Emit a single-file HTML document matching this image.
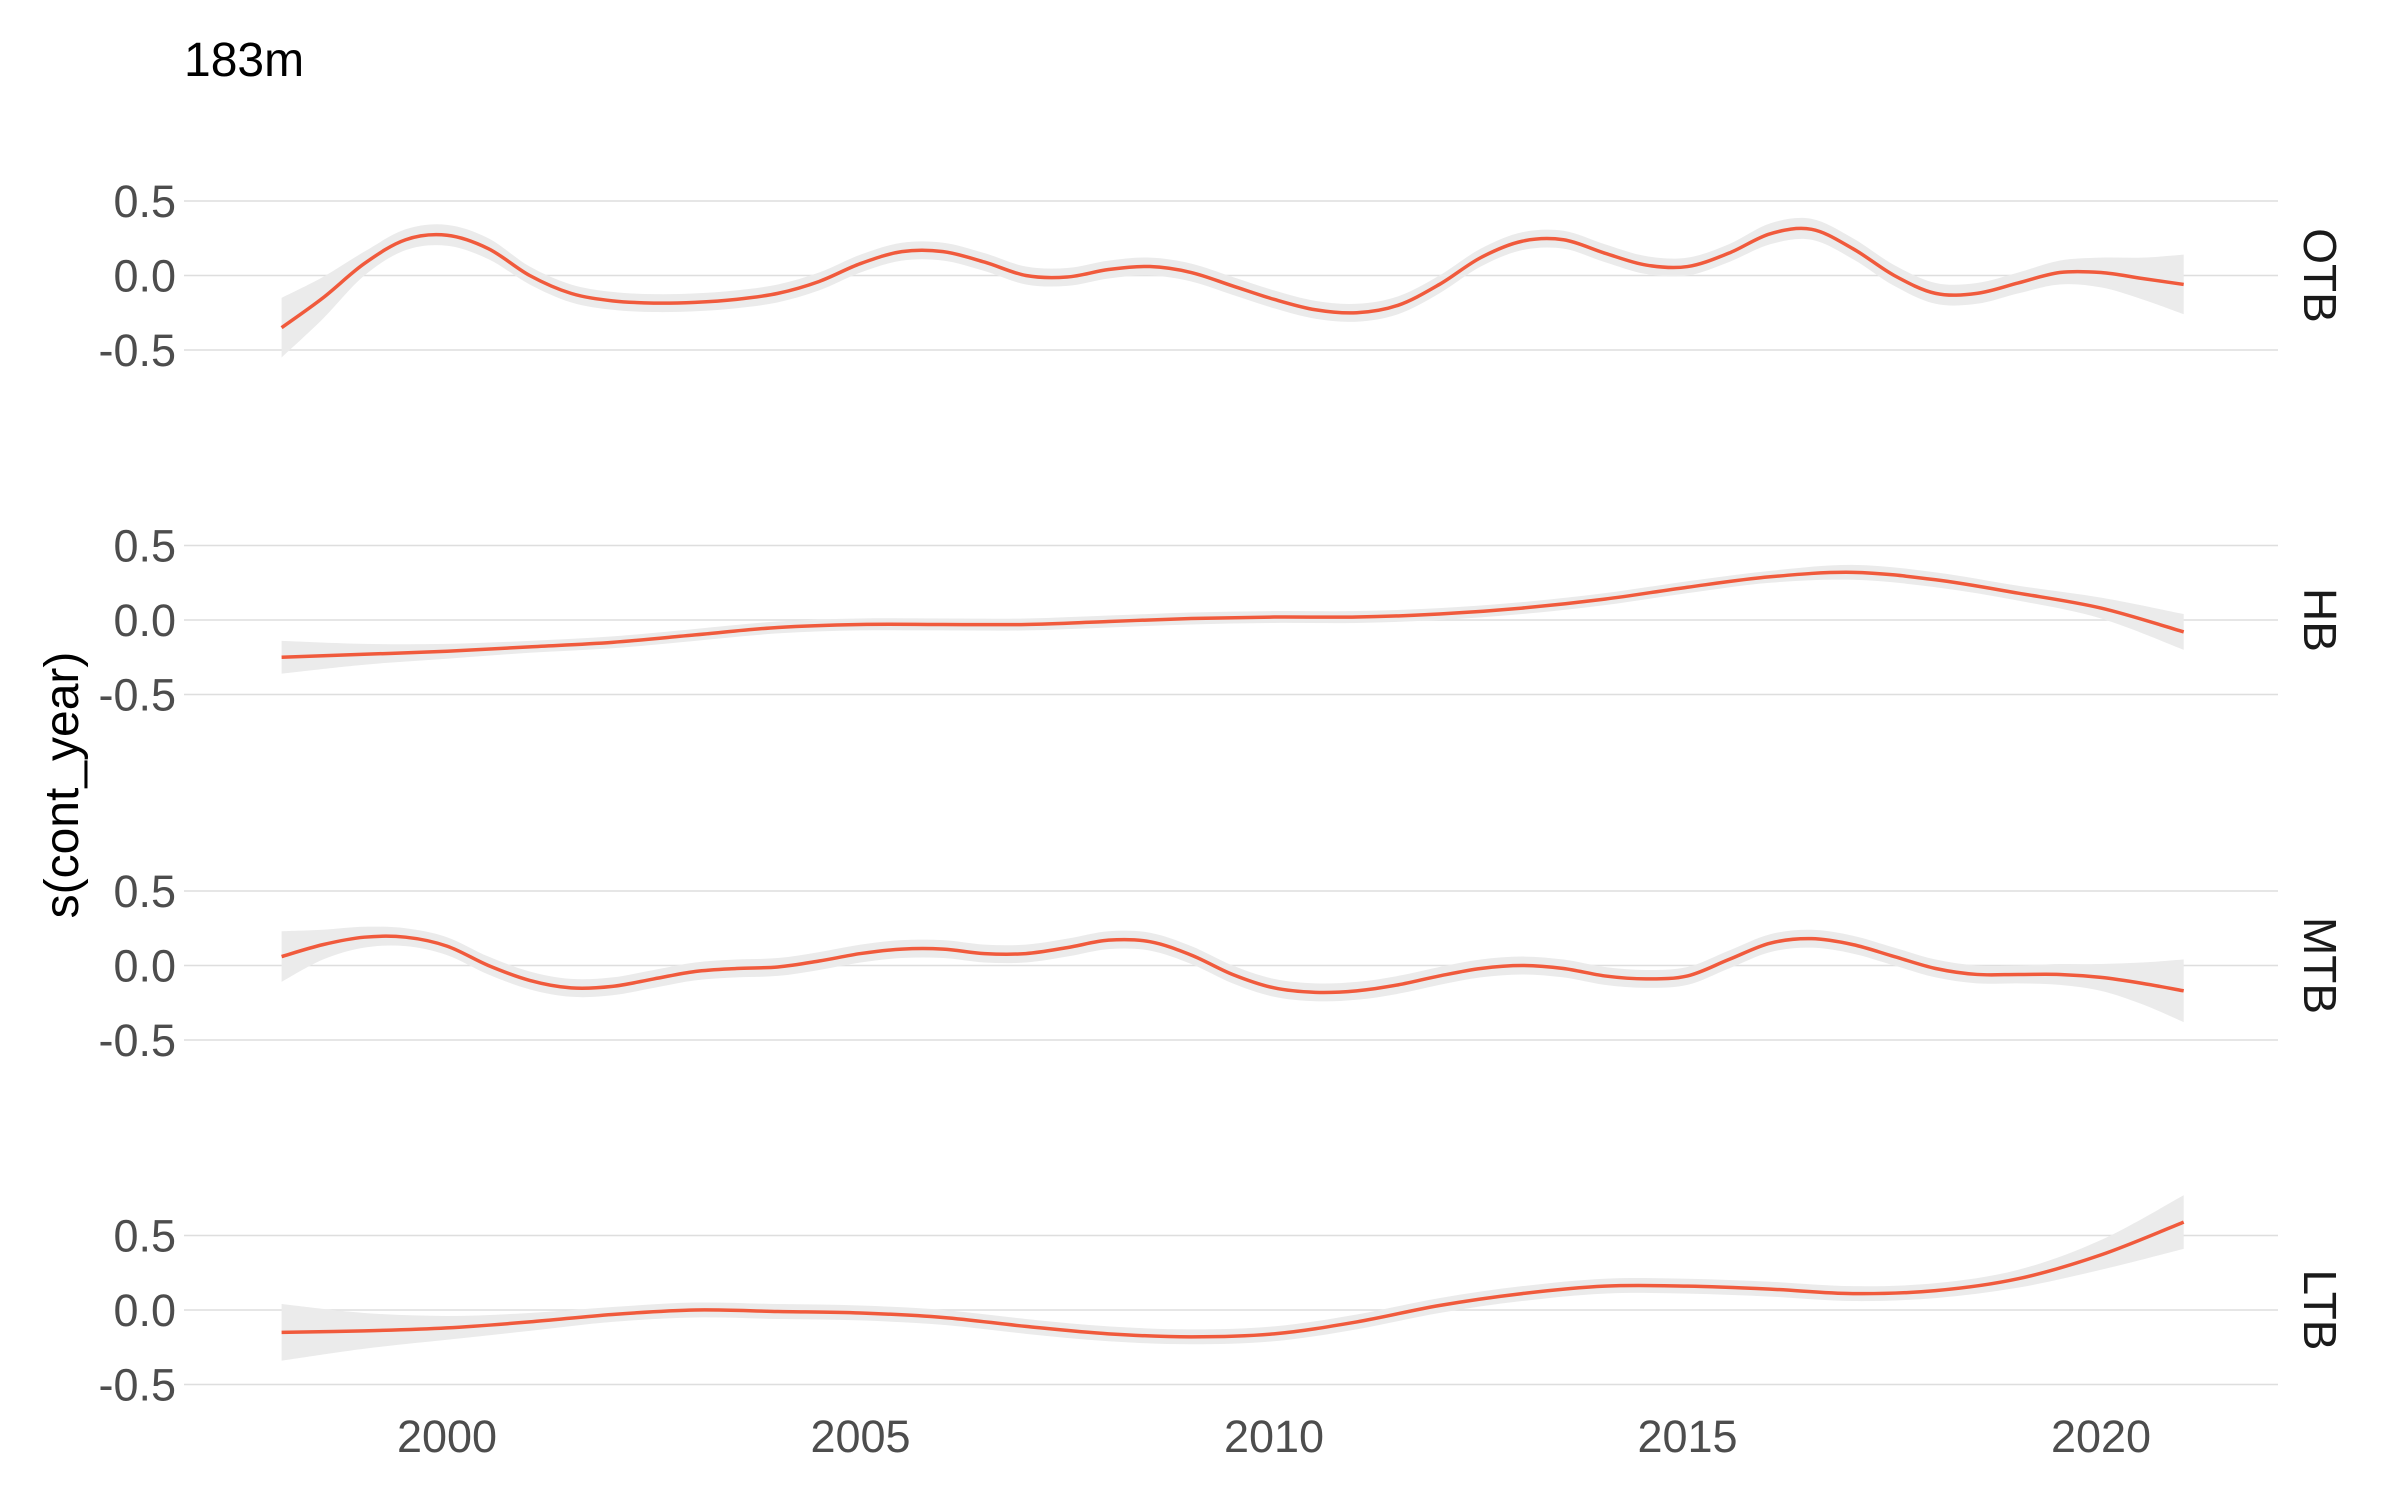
<!DOCTYPE html>
<html><head><meta charset="utf-8"><style>
html,body{margin:0;padding:0;background:#fff;}
svg{display:block;font-family:"Liberation Sans",sans-serif;}
</style></head><body>
<svg id="chart" width="2400" height="1500" viewBox="0 0 2400 1500">
<text x="184" y="76" font-size="48" fill="#000">183m</text>
<text transform="translate(78,785) rotate(-90)" text-anchor="middle" font-size="48" fill="#000">s(cont_year)</text>
</svg>
<script>
const panels = ["OTB","HB","MTB","LTB"];
const yearsHalf = [];
for (let y = 1998; y <= 2021.001; y += 0.5) yearsHalf.push(y);
const yearsFull = [1998,1999,2000,2001,2002,2003,2004,2005,2006,2007,2008,2009,2010,2011,2012,2013,2014,2015,2016,2017,2018,2019,2020,2021];
const otbValues = [-0.35,-0.15,0.08,0.24,0.27,0.18,0.0,-0.12,-0.17,-0.185,-0.18,-0.16,-0.12,-0.04,0.08,0.16,0.16,0.09,0.0,-0.01,0.04,0.06,0.02,-0.07,-0.16,-0.23,-0.25,-0.2,-0.06,0.12,0.23,0.24,0.15,0.07,0.06,0.15,0.28,0.31,0.18,0.0,-0.12,-0.12,-0.05,0.02,0.02,-0.02,-0.06];
const otbSe = [0.2,0.14,0.08,0.07,0.07,0.07,0.06,0.06,0.06,0.06,0.06,0.06,0.06,0.06,0.06,0.06,0.06,0.06,0.06,0.06,0.06,0.06,0.06,0.06,0.06,0.06,0.06,0.06,0.06,0.06,0.06,0.06,0.06,0.06,0.06,0.06,0.07,0.07,0.07,0.07,0.07,0.07,0.07,0.08,0.1,0.14,0.2];
const hbValues = [-0.25,-0.23,-0.21,-0.18,-0.15,-0.1,-0.05,-0.03,-0.03,-0.03,-0.01,0.01,0.02,0.02,0.04,0.08,0.14,0.22,0.29,0.32,0.27,0.18,0.08,-0.08];
const hbSe = [0.11,0.07,0.05,0.04,0.04,0.04,0.04,0.04,0.04,0.04,0.04,0.04,0.04,0.04,0.04,0.04,0.04,0.04,0.04,0.05,0.05,0.05,0.07,0.12];
const mtbValues = [0.06,0.14,0.19,0.19,0.13,0.0,-0.1,-0.15,-0.14,-0.09,-0.04,-0.02,-0.01,0.03,0.08,0.11,0.11,0.08,0.08,0.12,0.17,0.16,0.07,-0.06,-0.15,-0.18,-0.17,-0.13,-0.07,-0.02,0.0,-0.02,-0.07,-0.09,-0.07,0.04,0.15,0.18,0.14,0.06,-0.02,-0.06,-0.06,-0.06,-0.08,-0.12,-0.17];
const mtbSe = [0.17,0.1,0.07,0.06,0.06,0.06,0.06,0.06,0.06,0.06,0.06,0.06,0.06,0.06,0.06,0.06,0.06,0.06,0.06,0.06,0.06,0.06,0.06,0.06,0.06,0.06,0.06,0.06,0.06,0.06,0.06,0.06,0.06,0.06,0.06,0.06,0.06,0.06,0.06,0.06,0.06,0.06,0.06,0.07,0.09,0.14,0.21];
const ltbValues = [-0.15,-0.14,-0.12,-0.08,-0.03,0.0,-0.01,-0.02,-0.05,-0.11,-0.16,-0.18,-0.16,-0.08,0.03,0.11,0.16,0.16,0.14,0.11,0.13,0.21,0.37,0.59];
const ltbSe = [0.19,0.12,0.08,0.06,0.05,0.05,0.05,0.05,0.05,0.05,0.05,0.05,0.05,0.05,0.05,0.05,0.05,0.05,0.05,0.05,0.05,0.06,0.1,0.18];
const seriesYears = [yearsHalf, yearsFull, yearsHalf, yearsFull];
const seriesValues = [otbValues, hbValues, mtbValues, ltbValues];
const seriesSe = [otbSe, hbSe, mtbSe, ltbSe];
const yTicks = [0.5, 0.0, -0.5];
const yTickLabels = ["0.5","0.0","-0.5"];
const xTicks = [2000,2005,2010,2015,2020];

const NS = "http://www.w3.org/2000/svg";
const svg = document.getElementById("chart");
const plotL = 184, plotR = 2278;
const xScale = yr => 447 + (yr - 2000) * 82.7;
const panelZero = [275.5, 620, 965.5, 1310];
const yScale = (p, v) => panelZero[p] - v * 149;

function el(tag, attrs, parent) {
  const e = document.createElementNS(NS, tag);
  for (const k in attrs) e.setAttribute(k, attrs[k]);
  (parent || svg).appendChild(e);
  return e;
}
function smoothPath(pts, move) {
  let d = move ? "M" + pts[0][0] + "," + pts[0][1] : "L" + pts[0][0] + "," + pts[0][1];
  for (let i = 0; i < pts.length - 1; i++) {
    const p0 = pts[i - 1] || pts[i], p1 = pts[i], p2 = pts[i + 1], p3 = pts[i + 2] || p2;
    const c1 = [p1[0] + (p2[0] - p0[0]) / 6, p1[1] + (p2[1] - p0[1]) / 6];
    const c2 = [p2[0] - (p3[0] - p1[0]) / 6, p2[1] - (p3[1] - p1[1]) / 6];
    d += " C" + c1[0] + "," + c1[1] + " " + c2[0] + "," + c2[1] + " " + p2[0] + "," + p2[1];
  }
  return d;
}

panels.forEach((name, p) => {
  const g = el("g", {});
  
  
  yTicks.forEach((t, i) => {
    const y = yScale(p, t);
    const gl = el("line", {x1: plotL, x2: plotR, y1: y, y2: y, stroke: "#dedede", "stroke-width": 1.5}, g);
    
    
    const tl = el("text", {x: 176, y: y + 16, "text-anchor": "end", "font-size": 45, fill: "#4d4d4d"}, g);
    tl.textContent = yTickLabels[i];
    
    
  });
  const yrs = seriesYears[p], vals = seriesValues[p], se = seriesSe[p];
  const up = yrs.map((yr, i) => [xScale(yr), yScale(p, vals[i] + se[i])]);
  const lo = yrs.map((yr, i) => [xScale(yr), yScale(p, vals[i] - se[i])]).reverse();
  const rib = el("path", {d: smoothPath(up, true) + " " + smoothPath(lo, false) + " Z", fill: "#ebebeb"}, g);
  
  
  const line = el("path", {d: smoothPath(yrs.map((yr, i) => [xScale(yr), yScale(p, vals[i])]), true), fill: "none", stroke: "#f05a3c", "stroke-width": 3.5}, g);
  
  
  const st = el("text", {transform: "translate(2304," + panelZero[p] + ") rotate(90)", "text-anchor": "middle", "font-size": 46, fill: "#1a1a1a"}, g);
  st.textContent = name;
  
  
});
xTicks.forEach(t => {
  const tx = el("text", {x: xScale(t), y: 1452, "text-anchor": "middle", "font-size": 45, fill: "#4d4d4d"});
  tx.textContent = String(t);
  
  
});
</script>
</body></html>
